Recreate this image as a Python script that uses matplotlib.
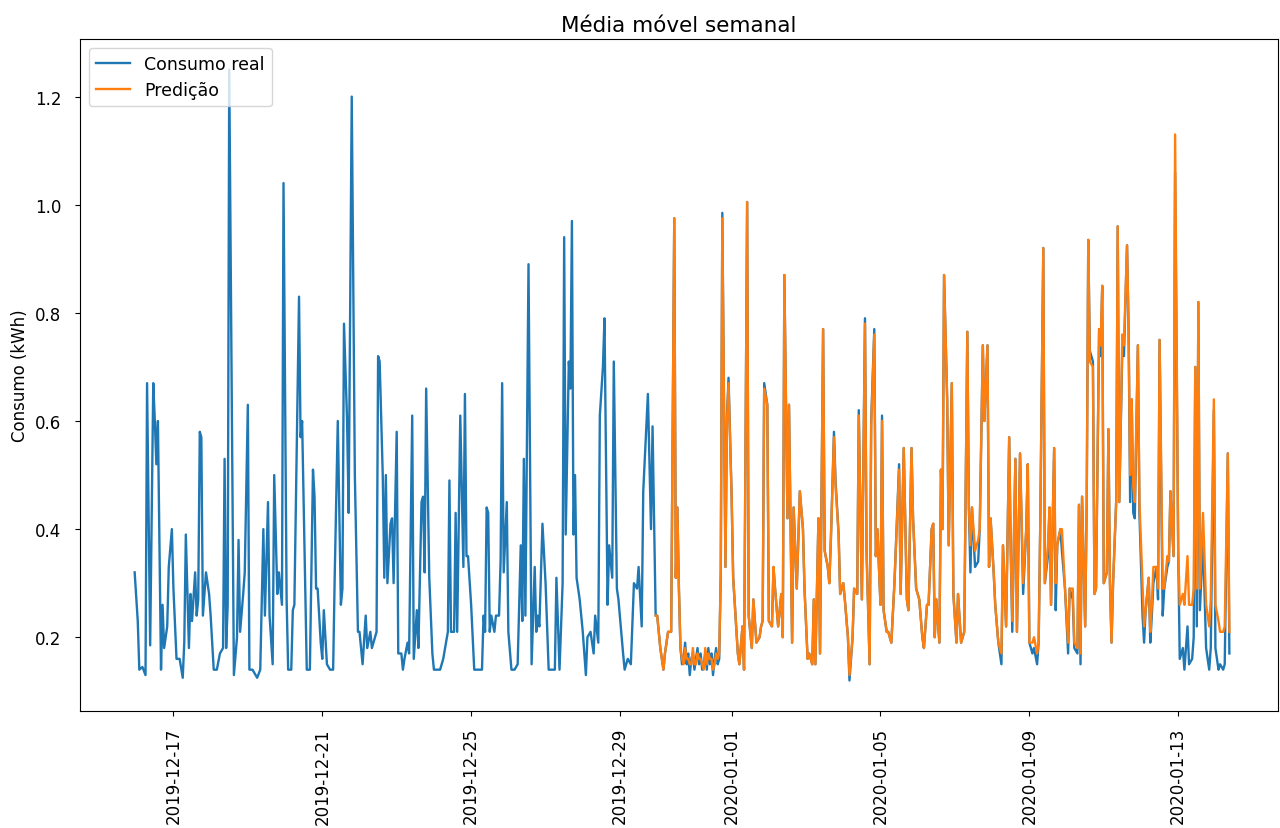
import numpy as np
import pandas as pd
import matplotlib
matplotlib.use("Agg")
import matplotlib.pyplot as plt

# hours counted from 2019-12-15 23:00
inicio = pd.Timestamp("2019-12-15 23:00")

# first part: only real consumption
horas_treino = [
    0, 2, 3, 5, 7, 8, 10, 12, 13, 14, 15, 17, 18, 19, 21, 22, 24, 25, 27, 29,
    31, 32, 33, 35, 36, 37, 39, 40, 41, 42, 43, 44, 46, 48, 49, 51, 53, 55, 57, 58,
    59, 60, 61, 64, 66, 67, 68, 70, 71, 73, 74, 76, 79, 81, 83, 84, 86, 87, 89, 90,
    92, 93, 95, 96, 98, 99, 101, 102, 103, 106, 107, 108, 111, 113, 115, 116, 117, 118, 120, 121,
    122, 124, 126, 128, 129, 131, 133, 134, 135, 137, 138, 140, 142, 144, 145, 147, 149, 150, 152, 153,
    156, 157, 158, 160, 161, 162, 163, 165, 166, 167, 169, 170, 172, 173, 174, 176, 177, 179, 180, 182,
    183, 185, 186, 187, 188, 190, 192, 193, 195, 197, 199, 202, 203, 204, 206, 207, 208, 210, 212, 213,
    214, 215, 217, 219, 221, 224, 225, 226, 227, 228, 229, 230, 232, 233, 235, 236, 237, 238, 240, 241,
    243, 245, 247, 249, 250, 251, 252, 254, 256, 258, 259, 260, 261, 263, 265, 267, 270, 271, 272, 274,
    276, 277, 278, 280, 281, 282, 283, 284, 285, 287, 289, 291, 292, 294, 296, 297, 299, 300, 302, 303,
    305, 306, 308, 309, 311, 312, 315, 316, 318, 320, 322, 324, 325, 327, 328, 331, 333, 334,
]
real_treino = [
    0.32, 0.23, 0.14, 0.145, 0.13, 0.67, 0.185, 0.67, 0.60, 0.52, 0.60, 0.14, 0.26, 0.18, 0.22, 0.33, 0.40, 0.29, 0.16, 0.16,
    0.125, 0.19, 0.39, 0.18, 0.28, 0.23, 0.32, 0.24, 0.27, 0.58, 0.57, 0.24, 0.32, 0.28, 0.24, 0.14, 0.14, 0.17, 0.18, 0.53,
    0.18, 0.26, 1.25, 0.13, 0.20, 0.38, 0.21, 0.28, 0.32, 0.63, 0.14, 0.14, 0.125, 0.14, 0.40, 0.24, 0.45, 0.24, 0.15, 0.50,
    0.28, 0.32, 0.26, 1.04, 0.27, 0.14, 0.14, 0.25, 0.26, 0.83, 0.57, 0.60, 0.14, 0.14, 0.51, 0.46, 0.29, 0.29, 0.19, 0.16,
    0.25, 0.15, 0.14, 0.14, 0.31, 0.60, 0.26, 0.29, 0.78, 0.60, 0.43, 1.20, 0.50, 0.21, 0.21, 0.15, 0.24, 0.18, 0.21, 0.18,
    0.21, 0.72, 0.71, 0.50, 0.31, 0.50, 0.30, 0.41, 0.42, 0.30, 0.58, 0.17, 0.17, 0.14, 0.16, 0.19, 0.17, 0.61, 0.16, 0.25,
    0.18, 0.45, 0.46, 0.32, 0.66, 0.31, 0.17, 0.14, 0.14, 0.14, 0.16, 0.21, 0.49, 0.21, 0.21, 0.43, 0.21, 0.61, 0.33, 0.65,
    0.35, 0.35, 0.26, 0.14, 0.14, 0.14, 0.24, 0.21, 0.44, 0.43, 0.21, 0.24, 0.21, 0.24, 0.24, 0.34, 0.67, 0.32, 0.45, 0.21,
    0.14, 0.14, 0.15, 0.37, 0.23, 0.53, 0.24, 0.89, 0.15, 0.33, 0.21, 0.24, 0.22, 0.41, 0.30, 0.14, 0.14, 0.14, 0.31, 0.14,
    0.30, 0.94, 0.39, 0.71, 0.66, 0.97, 0.39, 0.50, 0.31, 0.27, 0.21, 0.13, 0.20, 0.21, 0.17, 0.24, 0.19, 0.61, 0.70, 0.79,
    0.26, 0.37, 0.31, 0.71, 0.29, 0.27, 0.17, 0.14, 0.16, 0.15, 0.30, 0.29, 0.33, 0.22, 0.47, 0.65, 0.40, 0.59,
]

# second part: real consumption and model prediction
horas_teste = [
    336, 337, 339, 341, 342, 344, 346, 348, 349, 350, 351, 352, 353, 354, 355, 356, 357, 358, 359, 360,
    361, 362, 363, 364, 365, 366, 367, 368, 369, 370, 371, 372, 373, 374, 375, 376, 377, 378, 379, 381,
    382, 383, 385, 386, 389, 390, 392, 393, 395, 396, 398, 399, 401, 403, 404, 405, 406, 408, 409, 411,
    412, 413, 415, 417, 418, 419, 421, 422, 424, 425, 427, 429, 431, 432, 434, 435, 437, 438, 439, 441,
    442, 444, 445, 447, 448, 449, 451, 452, 454, 455, 457, 458, 460, 461, 463, 464, 466, 467, 469, 471,
    472, 474, 475, 477, 478, 479, 481, 482, 483, 485, 486, 488, 490, 493, 494, 496, 498, 499, 501, 502,
    504, 506, 508, 509, 511, 512, 514, 515, 516, 517, 519, 520, 521, 522, 524, 525, 527, 528, 530, 531,
    533, 535, 537, 538, 539, 540, 542, 544, 545, 547, 548, 550, 551, 552, 554, 555, 557, 559, 560, 562,
    564, 565, 566, 568, 569, 571, 573, 575, 576, 577, 579, 580, 582, 583, 584, 586, 587, 589, 590, 591,
    593, 594, 595, 597, 598, 600, 602, 603, 605, 606, 608, 609, 610, 611, 613, 614, 615, 616, 618, 619,
    620, 622, 623, 624, 625, 627, 628, 629, 630, 631, 633, 634, 635, 637, 638, 640, 641, 642, 643, 644,
    645, 647, 648, 650, 651, 652, 654, 655, 656, 657, 659, 660, 661, 663, 664, 666, 667, 668, 670, 671,
    673, 674, 676, 677, 679, 680, 682, 683, 684, 685, 686, 687, 689, 691, 693, 694, 696, 697, 699, 700,
    702, 703, 705, 706,
]
real_teste = [
    0.24, 0.24, 0.18, 0.14, 0.17, 0.21, 0.21, 0.975, 0.31, 0.44, 0.29, 0.18, 0.15, 0.16, 0.19, 0.15, 0.17, 0.13, 0.16, 0.17,
    0.14, 0.16, 0.18, 0.15, 0.17, 0.14, 0.15, 0.17, 0.14, 0.18, 0.15, 0.17, 0.13, 0.16, 0.18, 0.15, 0.16, 0.32, 0.985, 0.33,
    0.61, 0.68, 0.46, 0.31, 0.17, 0.15, 0.22, 0.14, 1.005, 0.24, 0.18, 0.27, 0.19, 0.20, 0.22, 0.23, 0.67, 0.63, 0.23, 0.22,
    0.33, 0.29, 0.22, 0.28, 0.20, 0.87, 0.42, 0.63, 0.19, 0.44, 0.29, 0.47, 0.40, 0.29, 0.16, 0.17, 0.15, 0.27, 0.15, 0.42,
    0.17, 0.77, 0.36, 0.33, 0.30, 0.38, 0.58, 0.49, 0.39, 0.28, 0.30, 0.27, 0.20, 0.12, 0.20, 0.29, 0.28, 0.62, 0.27, 0.79,
    0.36, 0.15, 0.60, 0.77, 0.35, 0.40, 0.26, 0.61, 0.25, 0.21, 0.21, 0.19, 0.30, 0.52, 0.28, 0.55, 0.27, 0.25, 0.55, 0.42,
    0.29, 0.27, 0.20, 0.18, 0.26, 0.26, 0.40, 0.41, 0.20, 0.27, 0.19, 0.51, 0.40, 0.87, 0.64, 0.37, 0.67, 0.28, 0.19, 0.28,
    0.19, 0.21, 0.765, 0.44, 0.32, 0.44, 0.33, 0.34, 0.40, 0.74, 0.60, 0.74, 0.33, 0.42, 0.32, 0.26, 0.19, 0.15, 0.37, 0.22,
    0.57, 0.36, 0.21, 0.53, 0.21, 0.54, 0.28, 0.40, 0.52, 0.19, 0.17, 0.18, 0.15, 0.19, 0.40, 0.92, 0.30, 0.35, 0.44, 0.26,
    0.55, 0.25, 0.37, 0.40, 0.36, 0.29, 0.17, 0.29, 0.27, 0.18, 0.17, 0.445, 0.15, 0.46, 0.22, 0.45, 0.935, 0.73, 0.71, 0.28,
    0.29, 0.77, 0.72, 0.85, 0.30, 0.32, 0.585, 0.30, 0.19, 0.30, 0.45, 0.96, 0.45, 0.74, 0.72, 0.925, 0.77, 0.45, 0.64, 0.43,
    0.42, 0.74, 0.43, 0.24, 0.19, 0.25, 0.31, 0.19, 0.24, 0.30, 0.33, 0.27, 0.75, 0.24, 0.29, 0.33, 0.34, 0.47, 0.35, 1.06,
    0.36, 0.16, 0.18, 0.14, 0.22, 0.15, 0.16, 0.20, 0.70, 0.22, 0.82, 0.25, 0.38, 0.18, 0.14, 0.18, 0.62, 0.18, 0.14, 0.15,
    0.14, 0.15, 0.54, 0.17,
]
pred_teste = [
    0.24, 0.24, 0.18, 0.14, 0.17, 0.21, 0.21, 0.975, 0.31, 0.44, 0.29, 0.18, 0.16, 0.15, 0.18, 0.16, 0.16, 0.15, 0.15, 0.18,
    0.15, 0.15, 0.17, 0.16, 0.16, 0.15, 0.14, 0.18, 0.15, 0.17, 0.16, 0.16, 0.14, 0.15, 0.17, 0.16, 0.17, 0.32, 0.975, 0.33,
    0.60, 0.67, 0.46, 0.31, 0.17, 0.15, 0.22, 0.14, 1.005, 0.24, 0.18, 0.27, 0.19, 0.20, 0.22, 0.23, 0.66, 0.63, 0.23, 0.22,
    0.33, 0.29, 0.22, 0.28, 0.20, 0.87, 0.42, 0.63, 0.19, 0.44, 0.29, 0.47, 0.40, 0.29, 0.16, 0.17, 0.15, 0.27, 0.15, 0.42,
    0.17, 0.77, 0.36, 0.33, 0.30, 0.38, 0.57, 0.48, 0.39, 0.28, 0.30, 0.27, 0.20, 0.13, 0.20, 0.29, 0.28, 0.61, 0.27, 0.78,
    0.36, 0.15, 0.59, 0.76, 0.35, 0.40, 0.26, 0.60, 0.25, 0.21, 0.21, 0.19, 0.30, 0.51, 0.28, 0.55, 0.27, 0.25, 0.55, 0.42,
    0.29, 0.27, 0.20, 0.18, 0.26, 0.26, 0.40, 0.41, 0.20, 0.27, 0.19, 0.51, 0.40, 0.87, 0.64, 0.37, 0.67, 0.28, 0.19, 0.28,
    0.19, 0.21, 0.765, 0.44, 0.37, 0.44, 0.36, 0.38, 0.40, 0.74, 0.60, 0.74, 0.33, 0.42, 0.32, 0.26, 0.19, 0.17, 0.37, 0.22,
    0.57, 0.36, 0.23, 0.53, 0.21, 0.54, 0.30, 0.40, 0.52, 0.19, 0.19, 0.20, 0.17, 0.19, 0.40, 0.92, 0.30, 0.37, 0.44, 0.26,
    0.55, 0.30, 0.37, 0.40, 0.40, 0.29, 0.19, 0.29, 0.29, 0.19, 0.18, 0.445, 0.17, 0.46, 0.22, 0.45, 0.935, 0.71, 0.70, 0.28,
    0.29, 0.77, 0.74, 0.85, 0.30, 0.32, 0.585, 0.30, 0.19, 0.30, 0.45, 0.96, 0.45, 0.76, 0.74, 0.925, 0.77, 0.50, 0.64, 0.48,
    0.45, 0.74, 0.45, 0.30, 0.22, 0.25, 0.31, 0.21, 0.26, 0.33, 0.33, 0.29, 0.75, 0.29, 0.29, 0.35, 0.34, 0.47, 0.35, 1.13,
    0.36, 0.26, 0.28, 0.26, 0.35, 0.26, 0.26, 0.29, 0.70, 0.29, 0.82, 0.29, 0.43, 0.26, 0.22, 0.27, 0.64, 0.26, 0.23, 0.21,
    0.21, 0.22, 0.54, 0.21,
]

t_real = inicio + pd.to_timedelta(np.array(horas_treino + horas_teste), unit="h")
t_pred = inicio + pd.to_timedelta(np.array(horas_teste), unit="h")
consumo = real_treino + real_teste

fig = plt.figure(figsize=(12.8, 8.29), dpi=100)
ax = fig.add_axes([0.0625, 0.1411, 0.9359, 0.8106])
ax.plot(t_real.to_numpy(), consumo, color="#1f77b4", lw=1.7, label="Consumo real")
ax.plot(t_pred.to_numpy(), pred_teste, color="#ff7f0e", lw=1.7, label="Predição")

ax.set_xlim(pd.Timestamp("2019-12-14 11:45").to_numpy(), pd.Timestamp("2020-01-15 16:20").to_numpy())
ax.set_title("Média móvel semanal", fontsize=15.5)
ax.set_ylabel("Consumo (kWh)", fontsize=12)
ax.tick_params(labelsize=12)
ax.tick_params(axis="y", pad=10)
ax.tick_params(axis="x", pad=8)
plt.setp(ax.get_xticklabels(), rotation=90)
ax.legend(loc="upper left", fontsize=12.5)

fig.savefig("out.png", dpi=100)
